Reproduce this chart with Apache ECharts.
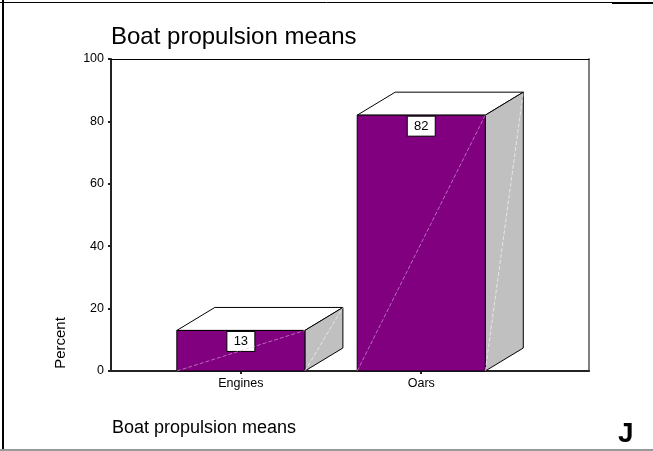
<!DOCTYPE html>
<html>
<head>
<meta charset="utf-8">
<script src="https://cdn.jsdelivr.net/npm/echarts@6/dist/echarts.min.js"></script>
<style>
  html, body { margin: 0; padding: 0; background: #fff; }
  #chart { width: 653px; height: 451px; }
</style>
</head>
<body>
<div id="chart"></div>
<script>
// Boat propulsion means — percent of boats per category
const categories = ['Engines', 'Oars'];
const percentValues = [13, 82];
const yTicks = [0, 20, 40, 60, 80, 100];
const categoryPositions = [0, 1];

const FONT = '"Liberation Sans", Arial, sans-serif';
const BAR_WIDTH = 0.71;      // in category units
const DEPTH_X = 38;          // 3D extrusion, pixels
const DEPTH_Y = -23;

const chart = echarts.init(document.getElementById('chart'), null, { renderer: 'canvas' });

function renderBox(params, api) {
  const pos = api.value(0);
  const val = api.value(1);
  const bl = api.coord([pos - BAR_WIDTH / 2, 0]);
  const tr = api.coord([pos + BAR_WIDTH / 2, val]);
  const x0 = bl[0], x1 = tr[0], yb = bl[1], yt = tr[1];
  const xc = (x0 + x1) / 2;
  const edge = { stroke: '#000', lineWidth: 1 };
  return {
    type: 'group',
    children: [
      { type: 'polygon', shape: { points: [[x0, yt], [x0 + DEPTH_X, yt + DEPTH_Y], [x1 + DEPTH_X, yt + DEPTH_Y], [x1, yt]] },
        style: Object.assign({ fill: '#ffffff' }, edge) },
      { type: 'polygon', shape: { points: [[x1, yt], [x1 + DEPTH_X, yt + DEPTH_Y], [x1 + DEPTH_X, yb + DEPTH_Y], [x1, yb]] },
        style: Object.assign({ fill: '#c0c0c0' }, edge) },
      { type: 'rect', shape: { x: x0, y: yt, width: x1 - x0, height: yb - yt },
        style: Object.assign({ fill: '#800080' }, edge) },
      { type: 'rect', shape: { x: xc - 14, y: yt + 1, width: 28, height: 20 },
        style: { fill: '#ffffff', stroke: '#000', lineWidth: 1 } },
      { type: 'text', x: xc, y: yt + 11,
        style: { text: String(val), fill: '#000', font: '13px ' + FONT, align: 'center', verticalAlign: 'middle' } },
      // faint facet seams
      { type: 'line', shape: { x1: x0, y1: yb, x2: x1, y2: yt },
        style: { stroke: 'rgba(235,190,235,0.55)', lineWidth: 1, lineDash: [4, 2] } },
      { type: 'line', shape: { x1: x1, y1: yb, x2: x1 + DEPTH_X, y2: yt + DEPTH_Y },
        style: { stroke: 'rgba(255,255,255,0.6)', lineWidth: 1, lineDash: [4, 2] } }
    ]
  };
}

const option = {
  backgroundColor: '#ffffff',
  animation: false,
  title: [
    { text: 'Boat propulsion means', left: 106, top: 20,
      textStyle: { fontFamily: FONT, fontSize: 24, fontWeight: 'normal', color: '#000' } },
    { text: 'Boat propulsion means', left: 107, top: 414,
      textStyle: { fontFamily: FONT, fontSize: 18, fontWeight: 'normal', color: '#000' } },
    { text: 'J', left: 613, top: 415,
      textStyle: { fontFamily: FONT, fontSize: 28, fontWeight: 'bold', color: '#000' } }
  ],
  grid: { left: 111, top: 59, right: 64, bottom: 80, containLabel: false },
  xAxis: [
    {
      type: 'value', min: -0.72, max: 1.93, position: 'bottom',
      axisLine: { show: true, onZero: false, lineStyle: { color: '#222', width: 2 } },
      axisTick: { show: true, customValues: categoryPositions, length: 3, lineStyle: { color: '#222', width: 2 } },
      axisLabel: { customValues: categoryPositions, formatter: v => categories[Math.round(v)],
        fontFamily: FONT, fontSize: 12.5, color: '#000', margin: 6 },
      splitLine: { show: false }
    },
    {
      type: 'value', min: -0.72, max: 1.93, position: 'top',
      axisLine: { show: true, onZero: false, lineStyle: { color: '#000', width: 1 } },
      axisTick: { show: false }, axisLabel: { show: false }, splitLine: { show: false }
    }
  ],
  yAxis: [
    {
      type: 'value', min: 0, max: 100, interval: 20, position: 'left',
      axisLine: { show: true, onZero: false, lineStyle: { color: '#222', width: 2 } },
      axisTick: { show: true, length: 3, lineStyle: { color: '#222', width: 2 } },
      axisLabel: { fontFamily: FONT, fontSize: 12.5, color: '#000', margin: 7,
        formatter: v => (yTicks.indexOf(v) >= 0 ? String(v) : '') },
      splitLine: { show: false }
    },
    {
      type: 'value', min: 0, max: 100, position: 'right',
      axisLine: { show: true, onZero: false, lineStyle: { color: '#808080', width: 2 } },
      axisTick: { show: false }, axisLabel: { show: false }, splitLine: { show: false }
    }
  ],
  graphic: [
    { type: 'text', x: 61, y: 343, rotation: Math.PI / 2,
      style: { text: 'Percent', font: '15px ' + FONT, fill: '#000', align: 'center', verticalAlign: 'middle' } },
    // page frame
    { type: 'line', shape: { x1: 3, y1: 0, x2: 3, y2: 451 }, style: { stroke: '#000', lineWidth: 2 } },
    { type: 'line', shape: { x1: 0, y1: 2.5, x2: 653, y2: 2.5 }, style: { stroke: '#000', lineWidth: 1 } },
    { type: 'line', shape: { x1: 612, y1: 3, x2: 653, y2: 3 }, style: { stroke: '#000', lineWidth: 2 } },
    { type: 'line', shape: { x1: 0, y1: 450, x2: 653, y2: 450 }, style: { stroke: '#999', lineWidth: 2 } }
  ],
  series: [{
    type: 'custom',
    xAxisIndex: 0, yAxisIndex: 0,
    renderItem: renderBox,
    encode: { x: 0, y: 1 },
    data: categoryPositions.map((p, i) => [p, percentValues[i]]),
    z: 5
  }]
};

chart.setOption(option);
</script>
</body>
</html>
